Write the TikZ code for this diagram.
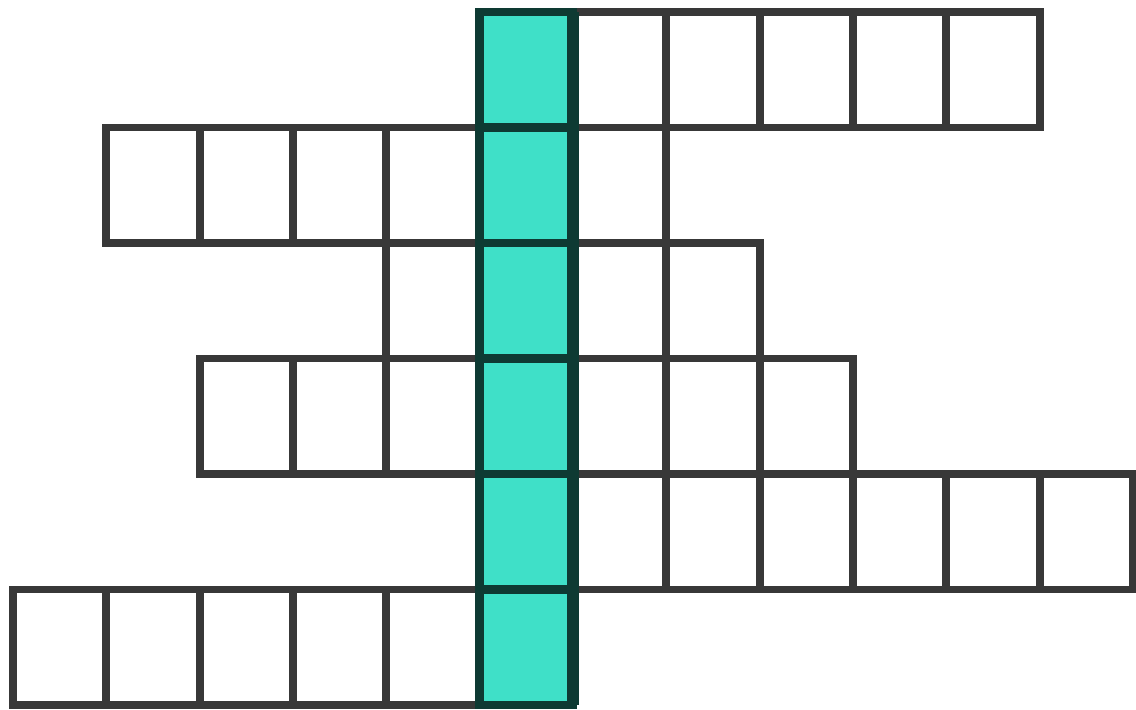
\documentclass[tikz,border=0pt]{standalone}
\usepackage{tikz}
\definecolor{gridgray}{HTML}{383838}
\definecolor{keyteal}{HTML}{3FE0C8}
\definecolor{keydark}{HTML}{0E3A33}

\begin{document}
\begin{tikzpicture}[
  x=1.8667cm, y=-2.31cm,
  cell/.style={draw=gridgray, line width=4.5pt, fill=white},
  keycell/.style={draw=keydark, line width=5pt, fill=keyteal}
]
\useasboundingbox (-0.139,-0.104) rectangle (12.032,6.035);
% answer rows: row / first column / last column
\foreach \r/\a/\b in {0/5/10, 1/1/6, 2/4/7, 3/2/8, 4/5/11, 5/0/5}
  \foreach \c in {\a,...,\b}
    \draw[cell] (\c,\r) rectangle +(1,1);
% key word column
\foreach \r in {0,...,5}
  \draw[keycell] (5,\r) rectangle +(1,1);
\draw[keydark, line width=7pt] (6,0) -- (6,6);
\end{tikzpicture}
\end{document}
